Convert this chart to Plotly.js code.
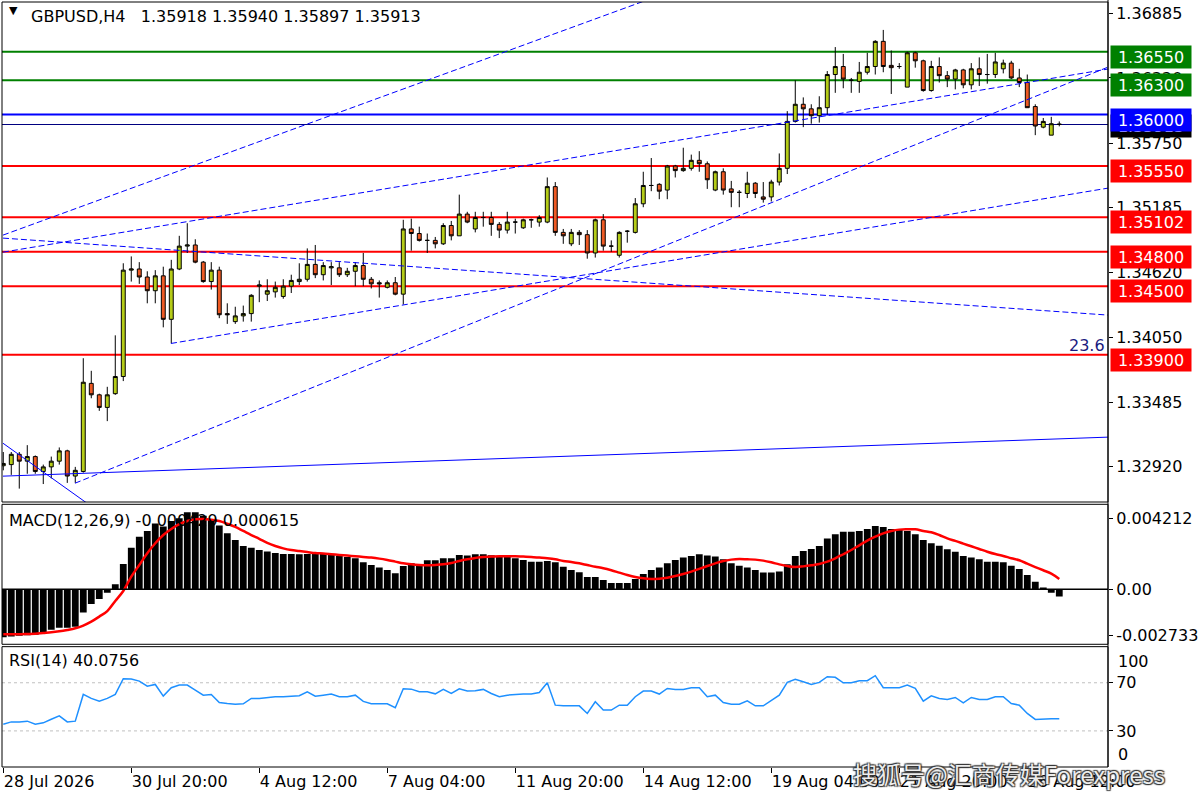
<!DOCTYPE html>
<html>
<head>
<meta charset="utf-8">
<script src="https://cdn.plot.ly/plotly-3.0.1.min.js"></script>
<style>
  html, body { margin: 0; padding: 0; background: #fff; }
  #chart { width: 1200px; height: 800px; }
</style>
</head>
<body>
<div id="chart"></div>
<script>
// --- GBPUSD H4 candles ---
const opens = [
  1.3293,1.3294,1.3303,1.3297,1.3301,1.3288,1.3292,1.3297,1.3306,1.3284,
  1.3288,1.3365,1.3355,1.3344,1.3356,1.3371,1.3464,1.3465,1.3458,1.3446,
  1.3459,1.3421,1.3465,1.3485,1.3486,1.3471,1.3454,1.3464,1.3426,1.3419,
  1.3424,1.3426,1.3450,1.3443,1.3445,1.3441,1.3450,1.3454,1.3456,1.3469,
  1.3460,1.3466,1.3466,1.3460,1.3463,1.3468,1.3456,1.3453,1.3449,1.3453,
  1.3443,1.3500,1.3496,1.3490,1.3490,1.3487,1.3503,1.3494,1.3513,1.3500,
  1.3510,1.3510,1.3504,1.3499,1.3506,1.3501,1.3508,1.3506,1.3506,1.3537,
  1.3497,1.3487,1.3497,1.3495,1.3479,1.3508,1.3485,1.3477,1.3498,1.3497,
  1.3522,1.3538,1.3539,1.3534,1.3555,1.3551,1.3553,1.3560,1.3557,1.3534,
  1.3550,1.3535,1.3532,1.3531,1.3540,1.3528,1.3528,1.3541,1.3553,1.3594,
  1.3609,1.3605,1.3599,1.3606,1.3635,1.3642,1.3630,1.3629,1.3637,1.3642,
  1.3664,1.3643,1.3642,1.3624,1.3654,1.3647,1.3621,1.3642,1.3634,1.3631,
  1.3639,1.3626,1.3640,1.3635,1.3635,1.3640,1.3645,1.3632,1.3628,1.3607,
  1.3589,1.3582,1.35918
];
const highs = [
  1.3305,1.3305,1.3305,1.3311,1.3302,1.3294,1.3301,1.3309,1.3307,1.3292,
  1.3387,1.3376,1.3356,1.3362,1.3407,1.3470,1.3476,1.3471,1.3463,1.3464,
  1.3467,1.3473,1.3494,1.3505,1.3491,1.3472,1.3471,1.3467,1.3435,1.3432,
  1.3433,1.3443,1.3455,1.3456,1.3454,1.3456,1.3460,1.3470,1.3483,1.3486,
  1.3471,1.3471,1.3471,1.3466,1.3471,1.3479,1.3458,1.3455,1.3455,1.3458,
  1.3508,1.3509,1.3502,1.3496,1.3493,1.3505,1.3507,1.3530,1.3515,1.3515,
  1.3515,1.3515,1.3506,1.3515,1.3509,1.3509,1.3509,1.3512,1.3545,1.3541,
  1.3500,1.3500,1.3499,1.3499,1.3509,1.3513,1.3490,1.3498,1.3499,1.3527,
  1.3550,1.3562,1.3540,1.3556,1.3556,1.3571,1.3565,1.3568,1.3559,1.3551,
  1.3553,1.3542,1.3534,1.3550,1.3541,1.3541,1.3543,1.3566,1.3603,1.3630,
  1.3615,1.3609,1.3616,1.3638,1.3659,1.3653,1.3632,1.3646,1.3654,1.3665,
  1.3674,1.3656,1.3645,1.3655,1.3655,1.3648,1.3647,1.3650,1.3638,1.3640,
  1.3640,1.3645,1.3650,1.3653,1.3654,1.3648,1.3647,1.3640,1.3635,1.3609,
  1.3597,1.3598,1.35940
];
const lows = [
  1.3289,1.3285,1.3273,1.3286,1.3286,1.3277,1.3282,1.3294,1.3278,1.3278,
  1.3287,1.3352,1.3341,1.3332,1.3355,1.3367,1.3454,1.3452,1.3435,1.3435,
  1.3414,1.3400,1.3464,1.3479,1.3470,1.3453,1.3447,1.3422,1.3417,1.3417,
  1.3419,1.3419,1.3436,1.3437,1.3440,1.3439,1.3444,1.3451,1.3454,1.3457,
  1.3455,1.3451,1.3458,1.3458,1.3450,1.3450,1.3448,1.3440,1.3448,1.3442,
  1.3434,1.3481,1.3489,1.3479,1.3483,1.3486,1.3490,1.3494,1.3505,1.3497,
  1.3502,1.3494,1.3492,1.3496,1.3496,1.3500,1.3501,1.3502,1.3505,1.3494,
  1.3487,1.3485,1.3486,1.3474,1.3475,1.3481,1.3480,1.3475,1.3488,1.3496,
  1.3519,1.3533,1.3526,1.3526,1.3545,1.3550,1.3551,1.3550,1.3535,1.3533,
  1.3530,1.3519,1.3519,1.3527,1.3527,1.3523,1.3524,1.3538,1.3548,1.3593,
  1.3589,1.3592,1.3593,1.3600,1.3619,1.3623,1.3619,1.3619,1.3635,1.3635,
  1.3637,1.3618,1.3640,1.3624,1.3641,1.3620,1.3620,1.3628,1.3624,1.3622,
  1.3623,1.3622,1.3625,1.3627,1.3632,1.3636,1.3631,1.3624,1.3606,1.3582,
  1.3588,1.3582,1.35897
];
const closes = [
  1.3295,1.3303,1.3297,1.3301,1.3288,1.3292,1.3297,1.3306,1.3284,1.3289,
  1.3366,1.3355,1.3344,1.3355,1.3371,1.3464,1.3465,1.3458,1.3446,1.3459,
  1.3421,1.3465,1.3485,1.3486,1.3471,1.3454,1.3464,1.3425,1.3425,1.3424,
  1.3426,1.3442,1.3451,1.3446,1.3449,1.3450,1.3455,1.3456,1.3469,1.3460,
  1.3468,1.3467,1.3460,1.3463,1.3468,1.3456,1.3452,1.3452,1.3453,1.3443,
  1.3500,1.3496,1.3490,1.3490,1.3487,1.3503,1.3494,1.3513,1.3506,1.3510,
  1.3510,1.3504,1.3499,1.3506,1.3506,1.3508,1.3508,1.3510,1.3537,1.3497,
  1.3494,1.3497,1.3495,1.3479,1.3508,1.3485,1.3485,1.3497,1.3498,1.3522,
  1.3538,1.3538,1.3533,1.3555,1.3551,1.3553,1.3560,1.3557,1.3543,1.3550,
  1.3534,1.3532,1.3532,1.3540,1.3531,1.3526,1.3541,1.3553,1.3594,1.3609,
  1.3605,1.3599,1.3606,1.3635,1.3642,1.3631,1.3630,1.3637,1.3642,1.3664,
  1.3642,1.3641,1.3642,1.3654,1.3647,1.3621,1.3642,1.3634,1.3631,1.3639,
  1.3626,1.3640,1.3635,1.3635,1.3646,1.3645,1.3632,1.3628,1.3606,1.3590,
  1.3594,1.3592,1.35913
];

// --- MACD(12,26,9): histogram (main) and signal ---
const macdMain = [
  -0.00285,-0.00280,-0.00275,-0.00272,-0.00270,-0.00265,-0.00240,-0.00228,-0.00228,-0.00222,
  -0.00138,-0.00087,-0.00057,-0.00020,0.00030,0.00150,0.00247,0.00312,0.00346,0.00391,
  0.00372,0.00405,0.00421,0.00457,0.00457,0.00437,0.00411,0.00378,0.00332,0.00293,
  0.00257,0.00247,0.00233,0.00224,0.00216,0.00210,0.00210,0.00208,0.00210,0.00214,
  0.00210,0.00208,0.00198,0.00192,0.00184,0.00160,0.00144,0.00129,0.00115,0.00095,
  0.00138,0.00154,0.00144,0.00172,0.00172,0.00184,0.00184,0.00203,0.00200,0.00208,
  0.00208,0.00202,0.00198,0.00194,0.00184,0.00174,0.00164,0.00164,0.00168,0.00160,
  0.00134,0.00115,0.00101,0.00073,0.00073,0.00055,0.00038,0.00038,0.00038,0.00061,
  0.00091,0.00115,0.00129,0.00154,0.00174,0.00188,0.00198,0.00208,0.00200,0.00194,
  0.00178,0.00154,0.00140,0.00129,0.00115,0.00099,0.00099,0.00105,0.00148,0.00198,
  0.00227,0.00239,0.00257,0.00302,0.00326,0.00342,0.00342,0.00346,0.00358,0.00376,
  0.00370,0.00358,0.00352,0.00346,0.00326,0.00293,0.00273,0.00259,0.00237,0.00223,
  0.00198,0.00188,0.00178,0.00164,0.00164,0.00160,0.00140,0.00121,0.00085,0.00045,
  0.00010,-0.00020,-0.00043
];
const macdSignal = [
  -0.00267,-0.00267,-0.00267,-0.00265,-0.00263,-0.00259,-0.00255,-0.00249,-0.00241,-0.00231,
  -0.00215,-0.00192,-0.00162,-0.00129,-0.00069,-0.00010,0.00075,0.00144,0.00214,0.00273,
  0.00322,0.00358,0.00386,0.00405,0.00415,0.00417,0.00413,0.00405,0.00389,0.00370,
  0.00346,0.00322,0.00299,0.00275,0.00257,0.00243,0.00233,0.00227,0.00221,0.00215,
  0.00212,0.00208,0.00204,0.00200,0.00196,0.00192,0.00188,0.00182,0.00174,0.00164,
  0.00154,0.00148,0.00144,0.00142,0.00144,0.00148,0.00156,0.00168,0.00178,0.00186,
  0.00192,0.00194,0.00196,0.00196,0.00196,0.00194,0.00192,0.00188,0.00184,0.00178,
  0.00168,0.00162,0.00154,0.00144,0.00134,0.00125,0.00113,0.00099,0.00085,0.00073,
  0.00065,0.00061,0.00063,0.00069,0.00079,0.00091,0.00105,0.00121,0.00138,0.00154,
  0.00168,0.00176,0.00180,0.00178,0.00176,0.00170,0.00160,0.00148,0.00138,0.00132,
  0.00136,0.00142,0.00150,0.00164,0.00184,0.00208,0.00233,0.00261,0.00289,0.00312,
  0.00332,0.00346,0.00354,0.00356,0.00356,0.00346,0.00338,0.00322,0.00302,0.00287,
  0.00271,0.00255,0.00239,0.00223,0.00209,0.00198,0.00184,0.00172,0.00152,0.00132,
  0.00113,0.00093,0.000615
];

// --- RSI(14) ---
const rsi14 = [
  35.6,37.5,37.5,38.1,35.6,36.7,39.7,42.5,37.5,38.1,
  60.3,57.0,54.7,57.0,60.3,73.4,73.1,71.4,67.2,68.6,
  58.9,65.9,68.1,68.1,63.9,59.7,60.3,53.6,52.8,52.2,
  52.5,57.0,57.0,57.8,58.4,58.4,58.9,59.2,62.5,58.9,
  59.7,60.6,58.4,58.4,59.7,54.5,52.5,52.5,52.5,49.2,
  65.0,64.7,62.5,62.5,60.8,64.5,61.1,65.0,63.1,63.4,
  64.5,61.1,58.4,59.7,60.3,60.6,60.6,61.9,70.0,51.4,
  50.8,50.8,50.8,44.5,54.2,47.3,47.3,51.4,51.4,58.4,
  63.1,63.1,60.6,65.3,64.5,64.5,65.9,65.9,58.4,59.7,
  53.6,52.2,52.2,55.0,50.8,50.8,55.6,59.7,70.3,72.8,
  70.8,68.6,70.3,75.0,74.5,70.0,70.0,71.7,71.7,75.9,
  65.9,65.9,65.9,68.1,65.3,54.7,59.2,57.0,56.1,57.8,
  53.3,57.8,56.1,56.1,58.4,58.4,52.8,51.4,44.5,39.5,
  40.0,40.0,40.0756
];

// time axis labels (every 16th H4 bar)
const timeTickBars = [0, 16, 32, 48, 64, 80, 96, 112, 128];
const timeTickLabels = ["28 Jul 2026", "30 Jul 20:00", "4 Aug 12:00", "7 Aug 04:00", "11 Aug 20:00",
                        "14 Aug 12:00", "19 Aug 04:00", "21 Aug 20:00", "26 Aug 12:00"];

// price scale labels
const priceTicks = [1.36885, 1.36320, 1.35750, 1.35185, 1.34620, 1.34050, 1.33485, 1.32920];
const macdTicks = [0.004212, 0, -0.002733];
const macdTickText = ["0.004212", "0.00", "-0.002733"];
const rsiLevels = [70, 30];

// horizontal levels
const greenLevels = [1.3655, 1.3630];
const blueLevels = [1.3600];
const redLevels = [1.3555, 1.35102, 1.3480, 1.3450, 1.3390];
const lastClose = 1.35913;

// trend lines: [bar start, bar end], [price start, price end]
const trendBars = [[-0.04, 82.1], [-0.04, 138.1], [8.96, 138.1], [-0.04, 138.1], [-0.04, 11], [-0.04, 138.1], [20.96, 138.1]];
const trendPrices = [[1.34946, 1.37043], [1.34797, 1.36398], [1.32777, 1.36415], [1.34920, 1.34247],
                     [1.33127, 1.32576], [1.32839, 1.33180], [1.33999, 1.35357]];
const trendDashed = [true, true, true, true, false, false, true];

const FONT = "DejaVu Sans, Verdana, sans-serif";
const bars = closes.map((_, i) => i);
const xRange = [-0.16, 138.09];

const traces = [];

// trend lines under the candles
trendBars.forEach((bx, k) => {
  traces.push({
    x: bx, y: trendPrices[k], type: "scatter", mode: "lines",
    xaxis: "x", yaxis: "y",
    line: { color: "#0000ff", width: 1, dash: trendDashed[k] ? "6px,3px" : "solid" }
  });
});

traces.push({
  x: bars, open: opens, high: highs, low: lows, close: closes,
  type: "candlestick", xaxis: "x", yaxis: "y",
  whiskerwidth: 0,
  increasing: { fillcolor: "#b5cc18", line: { color: "#000000", width: 1 } },
  decreasing: { fillcolor: "#ee5a24", line: { color: "#000000", width: 1 } }
});

traces.push({
  x: bars, y: macdMain, type: "bar", xaxis: "x2", yaxis: "y2",
  marker: { color: "#000000", line: { width: 0 } }
});
traces.push({
  x: bars, y: macdSignal, type: "scatter", mode: "lines", xaxis: "x2", yaxis: "y2",
  line: { color: "#ff0000", width: 2.5, shape: "spline" }
});
traces.push({
  x: bars, y: rsi14, type: "scatter", mode: "lines", xaxis: "x3", yaxis: "y3",
  line: { color: "#1e90ff", width: 1.5 }
});

// domains (pixels -> paper), plot area 2..767 tall
const priceDom = [0.3464, 1];
const macdDom = [0.1604, 0.3434];
const rsiDom = [0, 0.1573];

const shapes = [];
// pane frames
[priceDom, macdDom, rsiDom].forEach(d => {
  shapes.push({ type: "rect", xref: "paper", yref: "paper", x0: 0, x1: 1, y0: d[0], y1: d[1],
                line: { color: "#000000", width: 1 }, layer: "above" });
});
// continuous right axis line
shapes.push({ type: "line", xref: "paper", yref: "paper", x0: 1, x1: 1, y0: 0, y1: 1.003,
              line: { color: "#000000", width: 1 } });

function hline(level, color, width) {
  shapes.push({ type: "line", xref: "paper", x0: 0, x1: 1, yref: "y", y0: level, y1: level,
                line: { color: color, width: width }, layer: "below" });
}
greenLevels.forEach(v => hline(v, "#008000", 2));
blueLevels.forEach(v => hline(v, "#0000ff", 2));
redLevels.forEach(v => hline(v, "#ff0000", 2));
hline(lastClose, "#000080", 1);
// MACD zero line
shapes.push({ type: "line", xref: "paper", x0: 0, x1: 1, yref: "y2", y0: 0, y1: 0,
              line: { color: "#000000", width: 1.5 } });
// RSI levels
rsiLevels.forEach(v => shapes.push({ type: "line", xref: "paper", x0: 0, x1: 1, yref: "y3", y0: v, y1: v,
                                     line: { color: "#c0c0c0", width: 1, dash: "3px,3px" }, layer: "below" }));

const annotations = [];
function priceTag(level, bg, shift) {
  annotations.push({
    xref: "paper", x: 1, xanchor: "left", xshift: 2,
    yref: "y", y: level, yanchor: "middle", yshift: shift,
    text: level.toFixed(5), showarrow: false, align: "center",
    width: 78, height: 20, borderpad: 1, bgcolor: bg,
    font: { family: FONT, size: 16, color: "#ffffff" }
  });
}
priceTag(lastClose, "#000000", -1);
greenLevels.forEach(v => priceTag(v, "#008000", -5));
blueLevels.forEach(v => priceTag(v, "#0000ff", -5));
redLevels.forEach(v => priceTag(v, "#ff0000", -5));

// headers
annotations.push({ xref: "paper", yref: "paper", x: 0, y: 1, xshift: 5, yshift: -8, xanchor: "left", yanchor: "middle",
  text: "▼", showarrow: false, font: { family: FONT, size: 11, color: "#000000" } });
annotations.push({ xref: "paper", yref: "paper", x: 0, y: 1, xshift: 27, yshift: -14, xanchor: "left", yanchor: "middle",
  text: "GBPUSD,H4&nbsp;&nbsp; 1.35918 1.35940 1.35897 1.35913", showarrow: false,
  font: { family: FONT, size: 16, color: "#000000" } });
annotations.push({ xref: "paper", yref: "paper", x: 0, y: macdDom[1], xshift: 5, yshift: -16, xanchor: "left", yanchor: "middle",
  text: "MACD(12,26,9) -0.000429 0.000615", showarrow: false,
  font: { family: FONT, size: 16, color: "#000000" } });
annotations.push({ xref: "paper", yref: "paper", x: 0, y: rsiDom[1], xshift: 5, yshift: -14, xanchor: "left", yanchor: "middle",
  text: "RSI(14) 40.0756", showarrow: false,
  font: { family: FONT, size: 16, color: "#000000" } });
// fibo label
annotations.push({ xref: "paper", x: 1, xanchor: "right", xshift: -1, yref: "y", y: 1.33984, yanchor: "middle",
  text: "23.6", showarrow: false, font: { family: FONT, size: 16, color: "#1a1a80" } });
// RSI bounds labels
[["100", 88], ["0", 10]].forEach(([t, v]) => annotations.push({
  xref: "paper", x: 1, xanchor: "left", xshift: 8, yref: "y3", y: v, yanchor: "middle",
  text: t, showarrow: false, font: { family: FONT, size: 16, color: "#000000" } }));
// watermark
annotations.push({ xref: "paper", yref: "paper", x: 0.768, y: 0, yshift: -6, xanchor: "left", yanchor: "middle",
  text: "搜狐号@汇商传媒Forexpress", showarrow: false,
  font: { family: "Noto Sans CJK SC, sans-serif", size: 24, color: "rgba(255,255,255,0.92)",
          shadow: "1px 1px 1px #333, -1px -1px 1px #333, 1px -1px 1px #333, -1px 1px 1px #333" } });

const axisFont = { family: FONT, size: 16, color: "#000000" };
const hiddenX = { range: xRange, showticklabels: false, ticks: "", showgrid: false, zeroline: false, showline: false };

const layout = {
  width: 1200, height: 800,
  margin: { l: 2, r: 92, t: 2, b: 33 },
  paper_bgcolor: "#ffffff", plot_bgcolor: "#ffffff",
  showlegend: false, hovermode: false,
  bargap: 0.15, boxgap: 0.3,
  font: axisFont,
  xaxis: Object.assign({}, hiddenX, { anchor: "y", rangeslider: { visible: false } }),
  xaxis2: Object.assign({}, hiddenX, { anchor: "y2", matches: "x" }),
  xaxis3: {
    anchor: "y3", matches: "x", range: xRange,
    tickmode: "array", tickvals: timeTickBars, ticktext: timeTickLabels,
    ticks: "outside", ticklen: 5, tickcolor: "#000000",
    ticklabelposition: "outside right",
    showgrid: false, zeroline: false, showline: false, tickfont: axisFont
  },
  yaxis: {
    domain: priceDom, side: "right", range: [1.32613, 1.36984],
    tickmode: "array", tickvals: priceTicks, ticktext: priceTicks.map(v => v.toFixed(5)),
    ticks: "outside", ticklen: 4, tickcolor: "#000000",
    showgrid: false, zeroline: false, showline: false, tickfont: axisFont
  },
  yaxis2: {
    domain: macdDom, side: "right", range: [-0.003262, 0.005042],
    tickmode: "array", tickvals: macdTicks, ticktext: macdTickText,
    ticks: "outside", ticklen: 4, tickcolor: "#000000",
    showgrid: false, zeroline: false, showline: false, tickfont: axisFont
  },
  yaxis3: {
    domain: rsiDom, side: "right", range: [0, 100],
    tickmode: "array", tickvals: rsiLevels, ticktext: rsiLevels.map(String),
    ticks: "outside", ticklen: 4, tickcolor: "#000000",
    showgrid: false, zeroline: false, showline: false, tickfont: axisFont
  },
  shapes: shapes,
  annotations: annotations
};

Plotly.newPlot("chart", traces, layout, { staticPlot: true, displayModeBar: false });
</script>
</body>
</html>
